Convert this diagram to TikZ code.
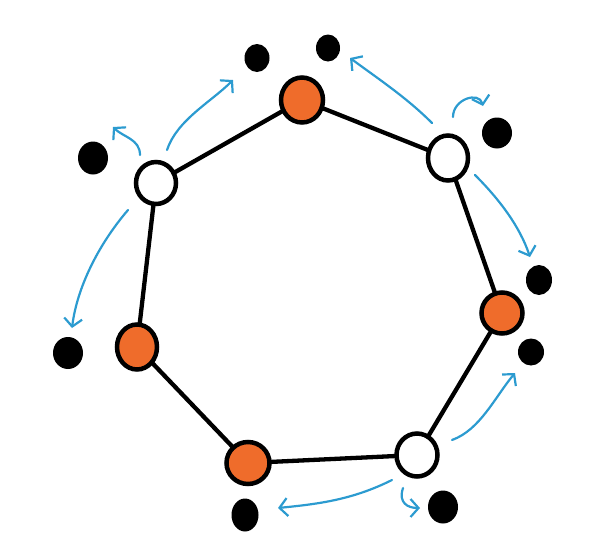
\documentclass[tikz,border=0pt]{standalone}
\usetikzlibrary{shapes.geometric,arrows.meta}
\definecolor{vorange}{HTML}{EF6C2B}
\definecolor{sblue}{HTML}{2C9BD0}
\tikzset{
  vtx/.style={ellipse, draw=black, line width=4.5pt, inner sep=0pt, outer sep=0pt},
  wvtx/.style={vtx, fill=white},
  ovtx/.style={vtx, fill=vorange},
  bdot/.style={ellipse, fill=black, inner sep=0pt, outer sep=0pt},
  edge/.style={line width=4.3pt, line cap=round},
  mv/.style={draw=sblue, line width=2.2pt, line cap=round, -{Straight Barb[length=8pt,width=18pt,line width=2.2pt]}}
}
\begin{document}
\begin{tikzpicture}[x=1pt,y=-1pt]
\useasboundingbox (0,0) rectangle (590,557);
% vertices
\node[wvtx, minimum width=40pt, minimum height=42pt] (w1) at (156,183) {};
\node[ovtx, minimum width=42pt, minimum height=45pt] (o1) at (302,100) {};
\node[wvtx, minimum width=40pt, minimum height=45pt] (w2) at (448,158) {};
\node[ovtx, minimum width=41pt, minimum height=41pt] (o2) at (502,313) {};
\node[wvtx, minimum width=41pt, minimum height=43pt] (w3) at (417,455) {};
\node[ovtx, minimum width=43pt, minimum height=42pt] (o3) at (248,463) {};
\node[ovtx, minimum width=40pt, minimum height=45pt] (o4) at (137,347) {};
% edges
\draw[edge] (w1) -- (o1);
\draw[edge] (o1) -- (w2);
\draw[edge] (w2) -- (o2);
\draw[edge] (o2) -- (w3);
\draw[edge] (w3) -- (o3);
\draw[edge] (o3) -- (o4);
\draw[edge] (o4) -- (w1);
% black dots
\node[bdot, minimum width=25pt, minimum height=28pt] (d1) at (257,58) {};
\node[bdot, minimum width=24pt, minimum height=27pt] (d2) at (328,48) {};
\node[bdot, minimum width=30pt, minimum height=33pt] (d3) at (93,158) {};
\node[bdot, minimum width=30pt, minimum height=31pt] (d4) at (497,133) {};
\node[bdot, minimum width=26pt, minimum height=30pt] (d5) at (539,280) {};
\node[bdot, minimum width=26pt, minimum height=27pt] (d6) at (531,352) {};
\node[bdot, minimum width=30pt, minimum height=32pt] (d7) at (68,353) {};
\node[bdot, minimum width=27pt, minimum height=33pt] (d8) at (245,515) {};
\node[bdot, minimum width=30pt, minimum height=33pt] (d9) at (443,507) {};
% arrow end points
\coordinate (a1s) at (167,150); \coordinate (a1e) at (233,80);
\coordinate (a2s) at (140,155); \coordinate (a2e) at (113,127);
\coordinate (a3s) at (128,210); \coordinate (a3e) at (72,328);
\coordinate (a4s) at (432,123); \coordinate (a4e) at (350,58);
\coordinate (a5s) at (453,117); \coordinate (a5e) at (483,106);
\coordinate (a6s) at (475,175); \coordinate (a6e) at (530,257);
\coordinate (a7s) at (452,440); \coordinate (a7e) at (515,373);
\coordinate (a8s) at (392,480); \coordinate (a8e) at (278,508);
\coordinate (a9s) at (403,488); \coordinate (a9e) at (420,508);
% blue arrows
\draw[mv] (a1s) .. controls +(10,-30) and +(-22,22) .. (a1e);
\draw[mv] (a2s) .. controls +(0,-16) and +(10,10) .. (a2e);
\draw[mv] (a3s) .. controls +(-30,35) and +(5,-40) .. (a3e);
\draw[mv] (a4s) .. controls +(-25,-25) and +(30,22) .. (a4e);
\draw[mv] (a5s) .. controls +(0,-18) and +(-4,-15) .. (a5e);
\draw[mv] (a6s) .. controls +(25,25) and +(-10,-30) .. (a6e);
\draw[mv] (a7s) .. controls +(28,-10) and +(-20,24) .. (a7e);
\draw[mv] (a8s) .. controls +(-40,20) and +(40,-4) .. (a8e);
\draw[mv] (a9s) .. controls +(-5,15) and +(-12,0) .. (a9e);
\end{tikzpicture}
\end{document}
